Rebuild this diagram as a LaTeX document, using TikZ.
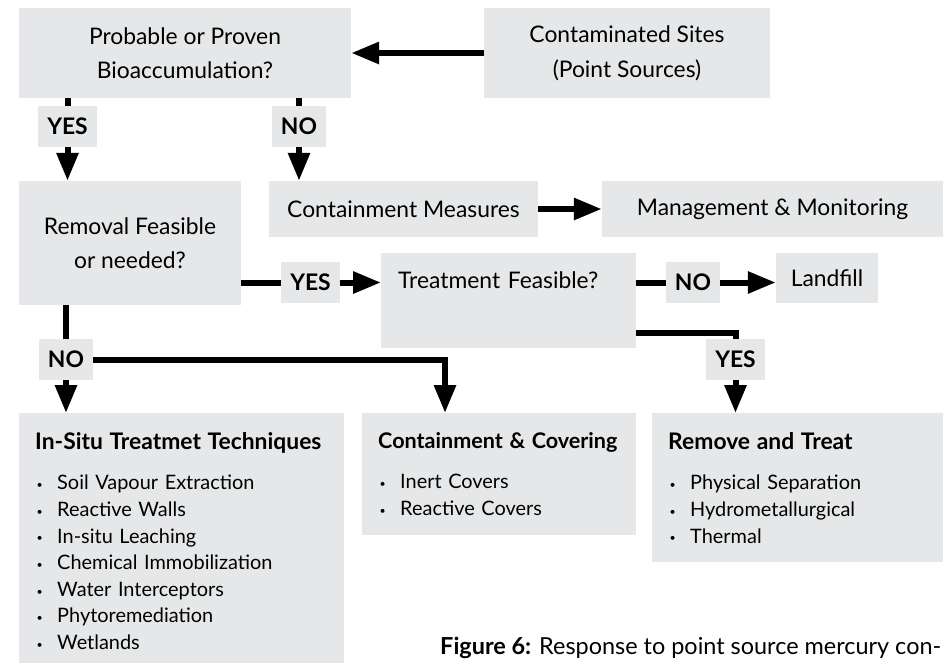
\documentclass[tikz,border=0pt]{standalone}
\usepackage{fontspec}
\setmainfont{Lato}
\usetikzlibrary{positioning,arrows.meta}
\definecolor{boxgray}{RGB}{230,231,232}
\newcommand{\bitem}[1]{\makebox[0.66cm][l]{\hspace{0.04cm}\raisebox{0.12ex}{\small •}}#1}
\newcommand{\btitle}[2][19.5]{\mbox{\fontsize{#1}{22.7}\selectfont\bfseries #2}}
\tikzset{box/.style={fill=boxgray,inner sep=0pt,align=center,
        font=\fontsize{19.5}{29.5}\selectfont},
    tag/.style={fill=boxgray,inner xsep=0.27cm,inner ysep=0pt,minimum height=1.23cm,
        font=\bfseries\fontsize{19.5}{20}\selectfont},
    listbox/.style={fill=boxgray,anchor=north west,align=left,inner xsep=0.48cm,
        inner ysep=0.57cm,font=\fontsize{17}{22.7}\selectfont},
    line/.style={line width=0.18cm},
    arr/.style={line,-{Triangle[length=0.84cm,width=0.63cm]}}}

\begin{document}
\begin{tikzpicture}[x=0.03cm,y=-0.03cm]
  \useasboundingbox (0,0) rectangle (943,662);
  % boxes
  \node[box,minimum width=9.96cm,minimum height=2.7cm] (bio) at (185,53)
      {Probable or Proven\\Bioaccumulation?};
  \node[box,minimum width=8.58cm,minimum height=2.7cm] (sites) at (627,53)
      {Contaminated Sites\\(Point Sources)};
  \node[box,minimum width=6.66cm,minimum height=3.72cm] (removal) at (130,243)
      {Removal Feasible\\or needed?};
  \node[box,minimum width=8.07cm,minimum height=1.68cm] (contain) at (403.5,209)
      {Containment Measures};
  \node[box,minimum width=10.23cm,minimum height=1.68cm] (monitor) at (772.5,209)
      {Management \& Monitoring};
  \node[box,anchor=north west,align=left,text width=6.63cm,inner xsep=0.51cm,
      text height=1.05cm,text depth=1.8cm] (treat) at (381,253) {Treatment Feasible?};
  \node[box,minimum width=3.06cm,minimum height=1.5cm] (landfill) at (827,278) {Landfill};
  % answers
  \node[tag] (yes1) at (67.5,126.5) {YES};
  \node[tag] (no1) at (299,126.5) {NO};
  \node[tag] (yes2) at (310.5,282.5) {YES};
  \node[tag] (no2) at (693,282.5) {NO};
  \node[tag] (yes3) at (735.5,359.5) {YES};
  \node[tag] (no3) at (66,359.5) {NO};
  % options
  \node[listbox,text width=8.79cm] (insitu) at (19,413)
      {\btitle{In-Situ Treatmet Techniques}\\[12pt]
       \bitem{Soil Vapour Extraction}\\ \bitem{Reactive Walls}\\
       \bitem{In-situ Leaching}\\ \bitem{Chemical Immobilization}\\
       \bitem{Water Interceptors}\\ \bitem{Phytoremediation}\\ \bitem{Wetlands}};
  \node[listbox,text width=7.26cm] (cover) at (362,413)
      {\btitle[18.4]{Containment \& Covering}\\[12pt]
       \bitem{Inert Covers}\\ \bitem{Reactive Covers}};
  \node[listbox,text width=7.77cm] (remtreat) at (652,413)
      {\btitle{Remove and Treat}\\[12pt]
       \bitem{Physical Separation}\\ \bitem{Hydrometallurgical}\\ \bitem{Thermal}};
  \node[anchor=west,inner sep=0pt,font=\fontsize{20}{22}\selectfont] (caption) at (440,648)
      {\textbf{Figure 6:} Response to point source mercury con-};
  % connectors
  \draw[arr] (sites) -- (bio);
  \draw[line] (bio.south -| yes1) -- (yes1);
  \draw[arr] (yes1) -- (yes1 |- removal.north);
  \draw[line] (bio.south -| no1) -- (no1);
  \draw[arr] (no1) -- (no1 |- contain.north);
  \draw[arr] (contain) -- (monitor);
  \draw[line] (removal.east |- yes2) -- (yes2);
  \draw[arr] (yes2) -- (yes2 -| treat.west);
  \draw[line] (treat.east |- no2) -- (no2);
  \draw[arr] (no2) -- (no2 -| landfill.west);
  \draw[line] ([yshift=0.45cm]treat.south east) -| (yes3);
  \draw[arr] (yes3) -- (yes3 |- remtreat.north);
  \draw[line] (removal.south -| no3) -- (no3);
  \draw[arr] (no3) -- (no3 |- insitu.north);
  \draw[arr] (no3) -| ([xshift=2.49cm]cover.north west);
\end{tikzpicture}
\end{document}
